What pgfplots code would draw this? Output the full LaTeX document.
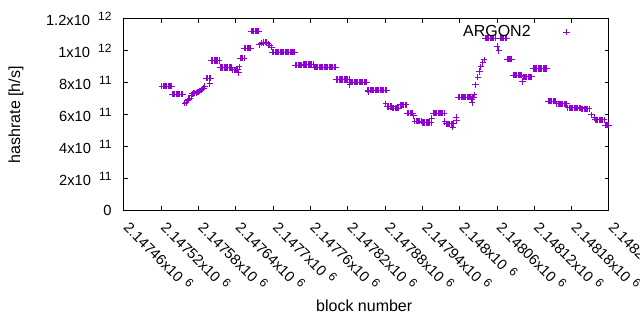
\documentclass[border=0pt]{standalone}
\usepackage{pgfplots}
\pgfplotsset{compat=1.18}
\usepackage{fontspec}
\setmainfont{Liberation Sans}
\definecolor{gpviolet}{RGB}{148,0,211}
\newcommand{\sci}[2]{#1x10\hspace{6pt}\raisebox{3.4pt}{\fontsize{9pt}{10pt}\selectfont #2}}
\newcommand{\scx}[2]{#1x10\hspace{4pt}\raisebox{3.4pt}{\fontsize{9pt}{10pt}\selectfont #2}}
\begin{document}
\begin{tikzpicture}
\begin{axis}[
  at={(93pt,89.5pt)}, anchor=south west,
  scale only axis, width=363.75pt, height=143.8pt,
  x coord trafo/.code={\edef\pgfmathresult{\the\numexpr#1-2147000\relax}},
  xmin=2147460, xmax=2148240, ymin=0, ymax=1.2e12,
  scaled y ticks=false, scaled x ticks=false,
  clip=false,
  axis line style={line width=0.75pt},
  tick style={line width=0.75pt, black},
  major tick length=3.2pt,
  tick align=inside,
  xtick={2147460,2147520,2147580,2147640,2147700,2147760,2147820,2147880,2147940,2148000,2148060,2148120,2148180,2148240},
  xticklabels={\scx{2.14746}{6},\scx{2.14752}{6},\scx{2.14758}{6},\scx{2.14764}{6},\scx{2.1477}{6},\scx{2.14776}{6},\scx{2.14782}{6},\scx{2.14788}{6},\scx{2.14794}{6},\scx{2.148}{6},\scx{2.14806}{6},\scx{2.14812}{6},\scx{2.14818}{6},\scx{2.14824}{6}},
  ytick={0,2e11,4e11,6e11,8e11,1e12,1.2e12},
  yticklabels={0,\sci{2}{11},\sci{4}{11},\sci{6}{11},\sci{8}{11},\sci{1}{12},\sci{1.2}{12}},
  tick label style={font=\fontsize{11pt}{13pt}\selectfont},
  yticklabel style={anchor=east, inner sep=0pt, xshift=-9.2pt},
  xticklabel style={anchor=north west, inner sep=0pt, yshift=-6.5pt, xshift=6pt, rotate=-45},
  xlabel={block number}, ylabel={hashrate [h/s]},
  label style={font=\fontsize{12pt}{14pt}\selectfont},
  xlabel style={at={(axis description cs:0.4953,-0.4966)}, anchor=center},
  ylabel style={at={(axis description cs:-0.2227,0.5)}, anchor=center, rotate=0},
  legend plot pos=right,
  legend style={draw=none, fill=none, at={(axis description cs:0.9298,0.9311)}, anchor=east,
    font=\fontsize{12pt}{14pt}\selectfont, nodes={inner sep=0pt}, column sep=0pt},
]
\addplot[only marks, mark=+, mark size=2.4pt, color=gpviolet, mark options={line width=0.75pt},
  legend image code/.code={\path[draw=none,fill=none] (0pt,-3pt) rectangle (30pt,3pt); \draw[gpviolet, mark=+, mark size=2.4pt, line width=0.75pt] plot[only marks] coordinates {(27pt,0pt)};}]
table[row sep=\\] {
x y\\
2147521 7.79e11\\ 2147523 7.79e11\\ 2147525 7.79e11\\ 2147527 7.79e11\\ 2147529 7.79e11\\ 2147531 7.79e11\\ 2147533 7.79e11\\ 2147535 7.79e11\\ 2147537 7.79e11\\
2147538 7.29e11\\ 2147540 7.29e11\\ 2147542 7.29e11\\ 2147544 7.29e11\\ 2147546 7.29e11\\ 2147548 7.29e11\\ 2147550 7.29e11\\ 2147552 7.29e11\\ 2147554 7.29e11\\
2147558 6.72e11\\ 2147560 6.78e11\\ 2147562 6.87e11\\ 2147564 6.95e11\\ 2147566 7.05e11\\ 2147568 7.20e11\\ 2147570 7.31e11\\ 2147572 7.34e11\\ 2147574 7.36e11\\ 2147576 7.38e11\\ 2147578 7.41e11\\ 2147580 7.44e11\\ 2147582 7.50e11\\ 2147584 7.57e11\\ 2147586 7.62e11\\ 2147588 7.66e11\\ 2147590 7.76e11\\
2147593 8.29e11\\ 2147595 8.29e11\\ 2147597 8.29e11\\ 2147599 8.29e11\\ 2147598 7.93e11\\
2147601 9.41e11\\ 2147603 9.41e11\\ 2147605 9.41e11\\ 2147607 9.41e11\\ 2147609 9.41e11\\ 2147611 9.41e11\\ 2147613 9.41e11\\
2147615 8.97e11\\ 2147617 8.97e11\\ 2147619 8.97e11\\ 2147621 8.97e11\\ 2147623 8.97e11\\ 2147625 8.97e11\\ 2147627 8.97e11\\ 2147629 8.97e11\\ 2147631 8.97e11\\ 2147633 8.97e11\\
2147635 8.82e11\\ 2147637 8.82e11\\ 2147639 8.82e11\\ 2147641 8.82e11\\ 2147643 8.82e11\\
2147644 8.66e11\\ 2147645 9.01e11\\
2147647 9.54e11\\ 2147649 9.54e11\\ 2147651 9.54e11\\ 2147653 9.54e11\\
2147654 10.17e11\\ 2147656 10.17e11\\ 2147658 10.17e11\\ 2147660 10.17e11\\ 2147662 10.17e11\\ 2147664 10.17e11\\
2147665 11.23e11\\ 2147667 11.23e11\\ 2147669 11.23e11\\ 2147671 11.23e11\\ 2147673 11.23e11\\ 2147675 11.23e11\\ 2147677 11.23e11\\
2147678 10.37e11\\ 2147681 10.48e11\\ 2147684 10.52e11\\ 2147687 10.54e11\\ 2147689 10.52e11\\ 2147692 10.45e11\\ 2147694 10.35e11\\ 2147697 10.23e11\\
2147699 9.92e11\\ 2147701 9.92e11\\ 2147703 9.92e11\\ 2147705 9.92e11\\ 2147707 9.92e11\\ 2147709 9.92e11\\ 2147711 9.92e11\\ 2147713 9.92e11\\ 2147715 9.92e11\\ 2147717 9.92e11\\ 2147719 9.92e11\\ 2147721 9.92e11\\ 2147723 9.92e11\\ 2147725 9.92e11\\ 2147727 9.92e11\\ 2147729 9.92e11\\ 2147731 9.92e11\\ 2147733 9.92e11\\ 2147735 9.92e11\\
2147736 9.10e11\\ 2147738 9.10e11\\ 2147740 9.10e11\\ 2147742 9.10e11\\ 2147744 9.10e11\\ 2147746 9.10e11\\
2147748 9.16e11\\ 2147750 9.16e11\\ 2147752 9.16e11\\ 2147754 9.16e11\\ 2147756 9.16e11\\ 2147758 9.16e11\\ 2147760 9.16e11\\ 2147762 9.16e11\\ 2147764 9.16e11\\
2147766 8.98e11\\ 2147768 8.98e11\\ 2147770 8.98e11\\ 2147772 8.98e11\\ 2147774 8.98e11\\ 2147776 8.98e11\\ 2147778 8.98e11\\ 2147780 8.98e11\\ 2147782 8.98e11\\ 2147784 8.98e11\\ 2147786 8.98e11\\ 2147788 8.98e11\\ 2147790 8.98e11\\ 2147792 8.98e11\\ 2147794 8.98e11\\ 2147796 8.98e11\\ 2147798 8.98e11\\ 2147800 8.98e11\\
2147802 8.22e11\\ 2147804 8.22e11\\ 2147806 8.22e11\\ 2147808 8.22e11\\ 2147810 8.22e11\\ 2147812 8.22e11\\ 2147814 8.22e11\\ 2147816 8.22e11\\ 2147818 8.22e11\\ 2147820 8.22e11\\ 2147822 8.22e11\\
2147823 7.88e11\\ 2147824 8.04e11\\ 2147826 8.04e11\\ 2147828 8.04e11\\ 2147830 8.04e11\\ 2147832 8.04e11\\ 2147834 8.04e11\\ 2147836 8.04e11\\ 2147838 8.04e11\\ 2147840 8.04e11\\ 2147842 8.04e11\\ 2147844 8.04e11\\ 2147846 8.04e11\\ 2147848 8.04e11\\ 2147850 8.04e11\\
2147853 7.45e11\\ 2147852 7.54e11\\ 2147854 7.54e11\\ 2147856 7.54e11\\ 2147858 7.54e11\\ 2147860 7.54e11\\ 2147862 7.54e11\\ 2147864 7.54e11\\ 2147866 7.54e11\\ 2147868 7.54e11\\ 2147870 7.54e11\\ 2147872 7.54e11\\ 2147874 7.54e11\\ 2147876 7.54e11\\ 2147878 7.54e11\\ 2147880 7.54e11\\ 2147882 7.54e11\\
2147881 6.68e11\\ 2147884 6.51e11\\ 2147886 6.51e11\\ 2147888 6.51e11\\ 2147890 6.51e11\\
2147892 6.41e11\\ 2147894 6.41e11\\ 2147896 6.41e11\\ 2147898 6.41e11\\ 2147900 6.41e11\\ 2147902 6.41e11\\
2147904 6.62e11\\ 2147906 6.62e11\\ 2147908 6.62e11\\ 2147910 6.62e11\\ 2147912 6.62e11\\ 2147914 6.62e11\\
2147916 6.10e11\\ 2147918 6.10e11\\ 2147920 6.10e11\\ 2147922 6.10e11\\ 2147924 6.10e11\\
2147926 5.93e11\\
2147928 5.60e11\\ 2147930 5.60e11\\ 2147932 5.60e11\\ 2147934 5.60e11\\ 2147936 5.60e11\\ 2147938 5.60e11\\
2147940 5.51e11\\ 2147942 5.51e11\\ 2147944 5.51e11\\ 2147946 5.51e11\\ 2147948 5.51e11\\ 2147950 5.51e11\\ 2147952 5.51e11\\ 2147954 5.51e11\\
2147955 5.78e11\\
2147957 6.10e11\\ 2147959 6.10e11\\ 2147961 6.10e11\\ 2147963 6.10e11\\ 2147965 6.10e11\\ 2147967 6.10e11\\ 2147969 6.10e11\\ 2147971 6.10e11\\ 2147973 6.10e11\\ 2147975 6.10e11\\
2147976 5.57e11\\
2147978 5.43e11\\ 2147980 5.43e11\\ 2147982 5.43e11\\ 2147984 5.43e11\\ 2147986 5.43e11\\ 2147988 5.43e11\\ 2147990 5.43e11\\
2147989 5.22e11\\ 2147994 5.85e11\\ 2147995 5.63e11\\
2147998 7.10e11\\ 2148000 7.10e11\\ 2148002 7.10e11\\ 2148004 7.10e11\\ 2148006 7.10e11\\ 2148008 7.10e11\\ 2148010 7.10e11\\ 2148012 7.10e11\\ 2148014 7.10e11\\ 2148016 7.10e11\\ 2148018 7.10e11\\ 2148020 7.10e11\\ 2148022 7.10e11\\
2148019 6.97e11\\ 2148020 6.76e11\\ 2148023 7.24e11\\
2148025 7.87e11\\ 2148029 8.35e11\\ 2148032 8.70e11\\ 2148034 9.01e11\\ 2148037 9.27e11\\ 2148039 9.43e11\\
2148041 10.79e11\\ 2148043 10.79e11\\ 2148045 10.79e11\\ 2148047 10.79e11\\ 2148049 10.79e11\\ 2148051 10.79e11\\ 2148053 10.79e11\\ 2148055 10.79e11\\ 2148057 10.79e11\\
2148060 10.27e11\\ 2148063 10.02e11\\
2148065 10.79e11\\ 2148067 10.79e11\\ 2148069 10.79e11\\ 2148071 10.79e11\\ 2148073 10.79e11\\ 2148075 10.79e11\\
2148076 9.48e11\\ 2148078 9.48e11\\ 2148080 9.48e11\\ 2148082 9.48e11\\ 2148084 9.48e11\\
2148086 8.49e11\\ 2148088 8.49e11\\ 2148090 8.49e11\\ 2148092 8.49e11\\ 2148094 8.49e11\\ 2148096 8.49e11\\ 2148098 8.49e11\\ 2148100 8.49e11\\
2148101 8.08e11\\
2148102 8.37e11\\ 2148104 8.37e11\\ 2148106 8.37e11\\ 2148108 8.37e11\\ 2148110 8.37e11\\ 2148112 8.37e11\\ 2148114 8.37e11\\ 2148116 8.37e11\\
2148118 8.89e11\\ 2148120 8.89e11\\ 2148122 8.89e11\\ 2148124 8.89e11\\ 2148126 8.89e11\\ 2148128 8.89e11\\ 2148130 8.89e11\\ 2148132 8.89e11\\ 2148134 8.89e11\\ 2148136 8.89e11\\ 2148138 8.89e11\\ 2148140 8.89e11\\
2148142 6.85e11\\ 2148144 6.85e11\\ 2148146 6.85e11\\ 2148148 6.85e11\\ 2148150 6.85e11\\ 2148152 6.85e11\\ 2148154 6.85e11\\
2148156 6.68e11\\ 2148158 6.68e11\\ 2148160 6.68e11\\ 2148162 6.68e11\\ 2148164 6.68e11\\ 2148166 6.68e11\\ 2148168 6.68e11\\ 2148170 6.68e11\\ 2148172 6.68e11\\
2148174 6.43e11\\ 2148176 6.43e11\\ 2148178 6.43e11\\ 2148180 6.43e11\\ 2148182 6.43e11\\ 2148184 6.43e11\\ 2148186 6.43e11\\ 2148188 6.43e11\\ 2148190 6.43e11\\ 2148192 6.43e11\\ 2148194 6.43e11\\
2148196 6.37e11\\ 2148198 6.37e11\\ 2148200 6.37e11\\ 2148202 6.37e11\\ 2148204 6.37e11\\ 2148206 6.37e11\\ 2148208 6.37e11\\
2148212 5.99e11\\ 2148216 5.82e11\\
2148218 5.68e11\\ 2148220 5.68e11\\ 2148222 5.68e11\\ 2148224 5.68e11\\ 2148226 5.68e11\\ 2148228 5.68e11\\ 2148230 5.68e11\\ 2148232 5.68e11\\
2148234 5.35e11\\ 2148236 5.35e11\\ 2148238 5.35e11\\ 2148240 5.35e11\\
};
\addlegendentry{ARGON2}
\end{axis}
\pgfresetboundingbox
\path (0pt,0pt) rectangle (480pt,247.5pt);
\end{tikzpicture}
\end{document}
